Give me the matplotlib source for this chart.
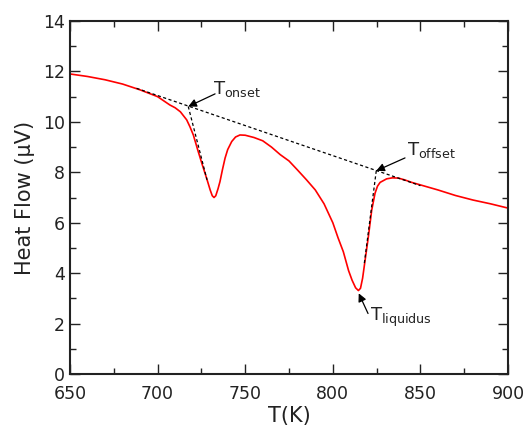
import matplotlib
matplotlib.use('Agg')
import matplotlib.pyplot as plt
from matplotlib.ticker import MultipleLocator

temp_K = [650, 660, 670, 680, 690, 700, 707, 710, 713, 716.6, 718.5, 720.4, 723.2,
          725.5, 728, 730, 731.2, 732.2, 733.2, 734.5, 735.6, 737, 738.5, 740, 742.3,
          744.5, 747, 750, 755, 760, 765, 770, 775, 780, 785, 790, 795, 800, 803, 806,
          809, 811, 813, 814.6, 815.8, 817, 818.4, 820.3, 822.2, 824.1, 825.5, 827,
          830.7, 834, 837.4, 841, 845, 850, 860, 870, 880, 890, 900]
heat_flow = [11.90, 11.80, 11.67, 11.50, 11.27, 11.00, 10.67, 10.56, 10.40, 10.08,
             9.80, 9.48, 8.82, 8.30, 7.76, 7.30, 7.07, 7.00, 7.07, 7.35, 7.63, 8.10,
             8.56, 8.90, 9.22, 9.40, 9.48, 9.47, 9.38, 9.25, 9.00, 8.70, 8.45, 8.08,
             7.70, 7.30, 6.75, 6.00, 5.40, 4.85, 4.10, 3.72, 3.42, 3.31, 3.40, 3.80,
             4.50, 5.45, 6.50, 7.17, 7.45, 7.60, 7.74, 7.78, 7.77, 7.70, 7.60, 7.50,
             7.30, 7.08, 6.90, 6.75, 6.58]

# construction lines
baseline_T = [688, 850]
baseline_y = [11.33, 7.47]
onset_T = [717.5, 728.2]
onset_y = [10.61, 7.7]
offset_T = [824.8, 818.0]
offset_y = [8.06, 4.4]

# annotations: label, arrow head, arrow tail, text position
labels = ['T$_{onset}$', 'T$_{offset}$', 'T$_{liquidus}$']
heads = [(717.5, 10.61), (824.8, 8.06), (814.8, 3.2)]
tails = [(732.8, 11.11), (841.2, 8.57), (820.1, 2.4)]
text_pos = [(731.5, 11.3), (842.3, 8.88), (821.5, 2.25)]

plt.rcParams['font.family'] = 'DejaVu Sans'
plt.rcParams['mathtext.default'] = 'regular'

fig = plt.figure(figsize=(5.27, 4.34), dpi=100)
ax = fig.add_axes([0.1328, 0.1382, 0.8312, 0.8134])

ax.plot(temp_K, heat_flow, color='red', lw=1.2)
for xs, ys in [(baseline_T, baseline_y), (onset_T, onset_y), (offset_T, offset_y)]:
    ax.plot(xs, ys, color='black', lw=0.9, linestyle=(0, (2.5, 2)))

for lab, h, t, p in zip(labels, heads, tails, text_pos):
    ax.annotate('', xy=h, xytext=t,
                arrowprops=dict(arrowstyle='-|>', color='black', lw=0.9,
                                mutation_scale=12, shrinkA=0, shrinkB=0))
    ax.text(p[0], p[1], lab, fontsize=13, ha='left', va='center', color='#222222')

ax.set_xlim(650, 900)
ax.set_ylim(0, 14)
ax.xaxis.set_major_locator(MultipleLocator(50))
ax.xaxis.set_minor_locator(MultipleLocator(25))
ax.yaxis.set_major_locator(MultipleLocator(2))
ax.yaxis.set_minor_locator(MultipleLocator(1))
ax.tick_params(which='both', direction='in', top=True, right=True, labelsize=12.5,
               width=1.0, colors='#222222')
ax.tick_params(which='major', length=7)
ax.tick_params(which='minor', length=4)
ax.tick_params(axis='x', which='major', pad=8)
for s in ax.spines.values():
    s.set_linewidth(1.5)
    s.set_color('#222222')

ax.set_xlabel('T(K)', fontsize=15, color='#222222', labelpad=2)
ax.set_ylabel('Heat Flow (\u03bcV)', fontsize=15, color='#222222', labelpad=6)

fig.savefig('out.png', dpi=100)
